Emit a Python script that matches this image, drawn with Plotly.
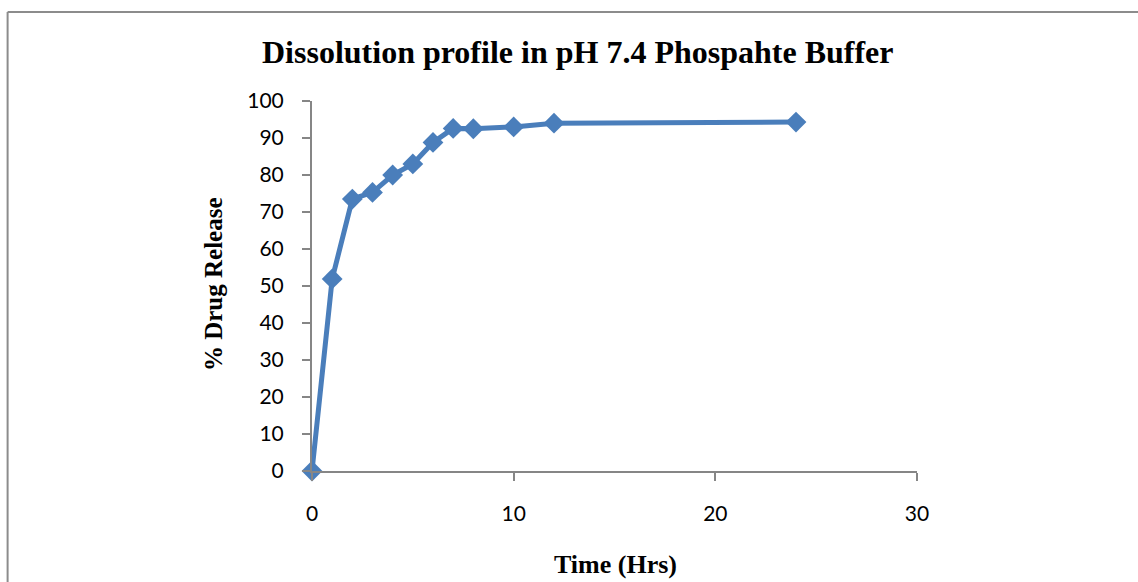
import plotly.graph_objects as go

time_hrs = [0, 1, 2, 3, 4, 5, 6, 7, 8, 10, 12, 24]
drug_release = [0, 51.9, 73.5, 75.3, 80.0, 83.0, 88.8, 92.6, 92.5, 93.0, 94.0, 94.3]

W, H = 1138, 582
L, R, T, B = 311.7, 1138 - 917.3, 101, 582 - 470.7
pw, ph = W - L - R, H - T - B

def px(x):
    return (x - L) / pw

def py(y):
    return (H - B - y) / ph

fig = go.Figure()
fig.add_trace(go.Scatter(
    x=time_hrs, y=drug_release, mode="lines+markers",
    line=dict(color="#4a7ebb", width=5),
    marker=dict(symbol="diamond", size=16, color="#4a7ebb"),
    cliponaxis=False, showlegend=False,
))

axis_common = dict(
    showgrid=False, zeroline=False, showline=True, linecolor="#868686", linewidth=2,
    ticks="outside", ticklen=8, tickcolor="#868686", tickwidth=2,
    tickfont=dict(family="Lato", size=21, color="#000000"),
)
fig.update_xaxes(range=[0, 30], dtick=10, tick0=0, ticklabelstandoff=15, **axis_common)
fig.update_yaxes(range=[0, 100], dtick=10, tick0=0, ticklabelstandoff=14, **axis_common)

serif = "Liberation Serif"
fig.add_annotation(text="<b>Dissolution profile in pH 7.4 Phospahte Buffer</b>",
                   xref="paper", yref="paper", x=px(577), y=py(52), showarrow=False,
                   xanchor="center", yanchor="middle",
                   font=dict(family=serif, size=32, color="#000000"))
fig.add_annotation(text="<b>% Drug Release</b>", textangle=-90,
                   xref="paper", yref="paper", x=px(212.5), y=py(284), showarrow=False,
                   xanchor="center", yanchor="middle",
                   font=dict(family=serif, size=25, color="#000000"))
fig.add_annotation(text="<b>Time (Hrs)</b>",
                   xref="paper", yref="paper", x=px(615.5), y=py(564), showarrow=False,
                   xanchor="center", yanchor="middle",
                   font=dict(family=serif, size=26, color="#000000"))

# outer chart border (left and top edges visible)
fig.add_shape(type="line", xref="paper", yref="paper", x0=px(7), x1=px(7), y0=py(12), y1=py(600),
              line=dict(color="#8c8c8c", width=2))
fig.add_shape(type="line", xref="paper", yref="paper", x0=px(7), x1=px(1150), y0=py(12), y1=py(12),
              line=dict(color="#8c8c8c", width=2))

fig.update_layout(
    width=W, height=H, margin=dict(l=L, r=R, t=T, b=B, pad=0),
    plot_bgcolor="white", paper_bgcolor="white",
)
fig.write_html("out.html", config={"displayModeBar": False},
               post_script="document.body.style.margin='0';document.body.style.overflow='hidden';")
